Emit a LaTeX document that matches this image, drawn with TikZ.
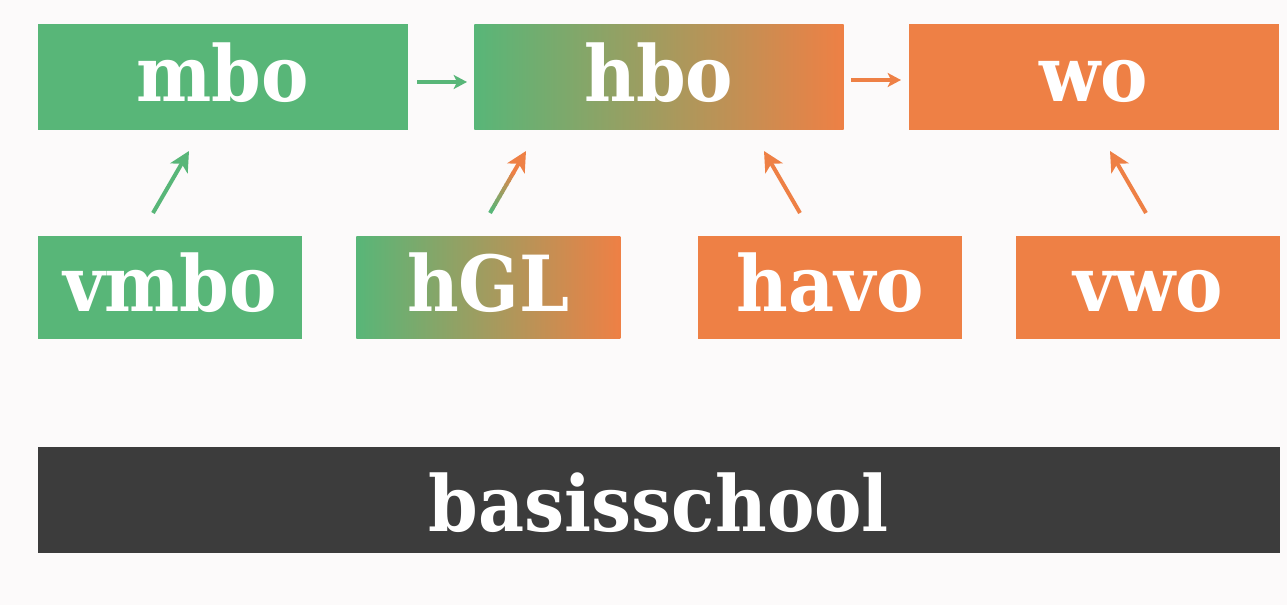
\documentclass[tikz,border=0pt]{standalone}
\usepackage{fontspec}
\setmainfont{DejaVu Serif}[BoldFont={DejaVu Serif Bold}, BoldFeatures={FakeStretch=0.92}]
\usetikzlibrary{arrows.meta,calc}
\definecolor{bggray}{HTML}{FCFAFA}
\definecolor{lgreen}{HTML}{58B678}
\definecolor{lorange}{HTML}{EE8045}
\definecolor{dgray}{HTML}{3C3C3C}
\tikzset{
  box/.style={inner sep=0pt, text=white, font=\fontsize{58}{58}\selectfont\bfseries,
    text height=44pt, text depth=7pt, anchor=north west},
  topbox/.style={box, minimum width=277pt, minimum height=79pt},
  lowbox/.style={box, minimum width=198pt, minimum height=77pt, text depth=7.5pt},
  arr/.style={line width=3pt, -{Stealth[length=15pt, width=15pt, inset=4pt]}},
  harr/.style={line width=2.5pt, -{Stealth[length=10pt, width=10.5pt, inset=2.5pt]}},
}
\begin{document}
\begin{tikzpicture}[x=0.75pt, y=-0.75pt]
\fill[bggray] (0,0) rectangle (1287,605);
\useasboundingbox (0,0) rectangle (1287,605);
% top row
\node[topbox, fill=lgreen] (mbo) at (38,24) {mbo};
\node[topbox, left color=lgreen, right color=lorange] (hbo) at (474,24) {hbo};
\node[topbox, fill=lorange] (wo) at (909,24) {wo};
% second row
\node[lowbox, fill=lgreen] (vmbo) at (38,236) {vmbo};
\node[lowbox, left color=lgreen, right color=lorange] (hgl) at (356,236) {hGL};
\node[lowbox, fill=lorange] (havo) at (698,236) {havo};
\node[lowbox, fill=lorange] (vwo) at (1016,236) {vwo};
% bottom
\node[box, fill=dgray, minimum width=931pt, minimum height=79pt, text height=50pt, text depth=2.5pt] (basis) at (38,447) {basisschool};
% arrow endpoints
\coordinate (a1s) at (417,82); \coordinate (a1e) at (467,82);
\coordinate (a2s) at (851,80); \coordinate (a2e) at (901,80);
\coordinate (u1s) at (153,213); \coordinate (u1e) at (189,151);
\coordinate (u2s) at (490,213); \coordinate (u2e) at (526,151);
\coordinate (u3s) at (800,213); \coordinate (u3e) at (764,151);
\coordinate (u4s) at (1146,213); \coordinate (u4e) at (1110,151);
% horizontal arrows
\draw[harr, lgreen] (a1s) -- (a1e);
\draw[harr, lorange] (a2s) -- (a2e);
% up arrows
\draw[arr, lgreen] (u1s) -- (u1e);
\draw[arr, lorange] (u3s) -- (u3e);
\draw[arr, lorange] (u4s) -- (u4e);
% gradient arrow from hGL to hbo
\foreach \i in {0,...,9}{
  \pgfmathsetmacro{\mix}{100-\i*10}
  \pgfmathsetmacro{\ta}{\i*0.065}
  \pgfmathsetmacro{\tb}{\i*0.065+0.075}
  \draw[line width=3pt, color=lgreen!\mix!lorange]
    ($(u2s)!\ta!(u2e)$) -- ($(u2s)!\tb!(u2e)$);
}
\draw[arr, lorange] ($(u2s)!0.62!(u2e)$) -- (u2e);
\end{tikzpicture}
\end{document}
